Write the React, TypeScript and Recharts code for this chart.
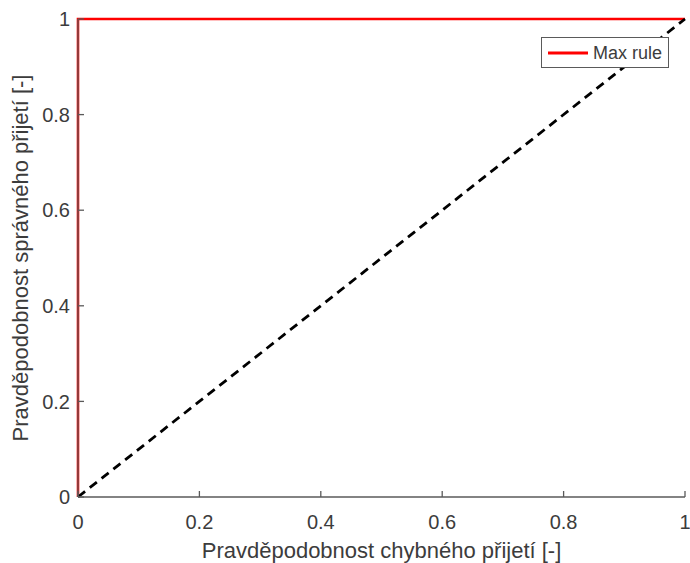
import React from 'react';
import { LineChart, Line, XAxis, YAxis, Legend } from 'recharts';

// ROC curve of the "Max rule" classifier against the chance diagonal
const axisTicks = [0, 0.2, 0.4, 0.6, 0.8, 1];
const falseAcceptRate = [0, 0, 1];
const trueAcceptRate = [0, 1, 1];
const chanceFalseAccept = [0, 1];
const chanceTrueAccept = [0, 1];
const seriesName = 'Max rule';
const xTitle = 'Pravděpodobnost chybného přijetí [-]';
const yTitle = 'Pravděpodobnost správného přijetí [-]';

const rocData = falseAcceptRate.map((far, i) => ({ far, tar: trueAcceptRate[i] }));
const chanceData = chanceFalseAccept.map((far, i) => ({ far, tar: chanceTrueAccept[i] }));

const FONT = '"Liberation Sans", Arial, Helvetica, sans-serif';
const TEXT = '#3c3c3c';
const AXIS = '#5a5a5a';

const tickStyle = { fontSize: 20, fill: TEXT, fontFamily: FONT };
const fmt = (v: number) => String(v);
const blank = () => '';

const XTitle = (props: any) => {
  const vb = props.viewBox;
  return (
    <text
      x={vb.x + vb.width / 2}
      y={vb.y + 61}
      textAnchor="middle"
      fontSize={22}
      fill={TEXT}
      fontFamily={FONT}
    >
      {xTitle}
    </text>
  );
};

const YTitle = (props: any) => {
  const vb = props.viewBox;
  const cx = vb.x + 28;
  const cy = vb.y + vb.height / 2;
  return (
    <text
      x={cx}
      y={cy}
      transform={`rotate(-90, ${cx}, ${cy})`}
      textAnchor="middle"
      fontSize={22}
      fill={TEXT}
      fontFamily={FONT}
    >
      {yTitle}
    </text>
  );
};

const LegendBox = (props: any) => {
  const items = (props.payload || []).filter((p: any) => p.type !== 'none');
  return (
    <div
      style={{
        boxSizing: 'border-box',
        width: 128,
        height: 31,
        border: `1px solid ${AXIS}`,
        background: '#ffffff',
        display: 'flex',
        alignItems: 'center',
        fontFamily: FONT,
        fontSize: 18,
        color: TEXT,
      }}
    >
      {items.map((p: any) => (
        <div key={p.value} style={{ display: 'flex', alignItems: 'center' }}>
          <svg width={51} height={10} style={{ display: 'block' }}>
            <line x1={6} y1={5} x2={46} y2={5} stroke={p.color} strokeWidth={3} />
          </svg>
          <span style={{ lineHeight: '20px' }}>{p.value}</span>
        </div>
      ))}
    </div>
  );
};

export default function App() {
  return (
    <div style={{ position: 'absolute', left: 0, top: 0, width: 690, height: 563, background: '#fff' }}>
      <LineChart width={690} height={563} margin={{ top: 19, right: 5, bottom: 0, left: 0 }}>
        <XAxis
          dataKey="far"
          type="number"
          domain={[0, 1]}
          ticks={axisTicks}
          interval={0}
          tickFormatter={fmt}
          height={66}
          tickSize={-6}
          tickMargin={24}
          stroke={AXIS}
          strokeWidth={1.3}
          tick={tickStyle}
          label={<XTitle />}
        />
        <XAxis
          xAxisId="top"
          orientation="top"
          dataKey="far"
          type="number"
          domain={[0, 1]}
          ticks={axisTicks}
          interval={0}
          tickFormatter={blank}
          height={0}
          tickSize={-6}
          stroke={AXIS}
          strokeWidth={1.3}
        />
        <YAxis
          dataKey="tar"
          type="number"
          domain={[0, 1]}
          ticks={axisTicks}
          interval={0}
          tickFormatter={fmt}
          width={78}
          tickSize={-6}
          tickMargin={14}
          stroke={AXIS}
          strokeWidth={1.3}
          tick={tickStyle}
          label={<YTitle />}
        />
        <YAxis
          yAxisId="right"
          orientation="right"
          dataKey="tar"
          type="number"
          domain={[0, 1]}
          ticks={axisTicks}
          interval={0}
          tickFormatter={blank}
          width={0}
          tickSize={-6}
          stroke={AXIS}
          strokeWidth={1.3}
        />
        <Line
          data={rocData}
          dataKey="tar"
          name={seriesName}
          type="linear"
          stroke="#ff0000"
          strokeWidth={2.6}
          dot={false}
          activeDot={false}
          isAnimationActive={false}
        />
        <Line
          data={chanceData}
          dataKey="tar"
          name="chance"
          legendType="none"
          type="linear"
          stroke="#000000"
          strokeWidth={2.8}
          strokeDasharray="9 6"
          dot={false}
          activeDot={false}
          isAnimationActive={false}
        />
        <Legend
          layout="horizontal"
          verticalAlign="middle"
          align="center"
          content={<LegendBox />}
          wrapperStyle={{ left: 541, top: 37, width: 128, height: 31, right: 'auto', bottom: 'auto' }}
        />
      </LineChart>
    </div>
  );
}
